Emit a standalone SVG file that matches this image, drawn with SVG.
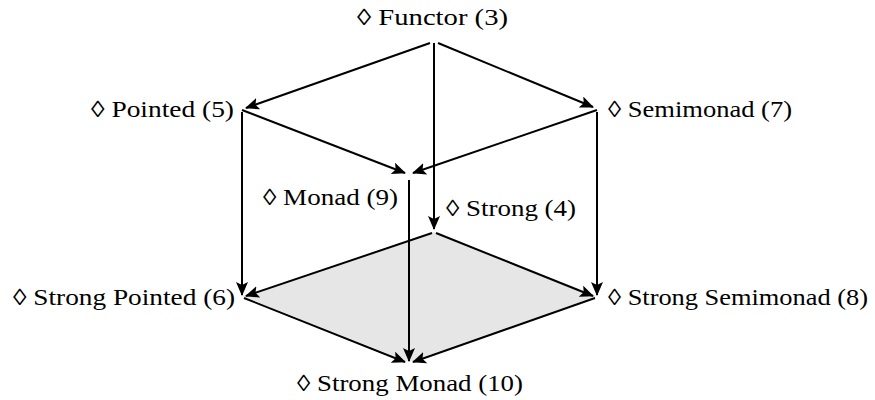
<svg xmlns="http://www.w3.org/2000/svg" width="875" height="400" viewBox="0 0 875 400">
<style>
text{font-family:"Liberation Serif","DejaVu Serif",serif;font-size:23px;fill:#000}
.e{stroke:#000;stroke-width:2;fill:none;marker-end:url(#ah)}
</style>
<defs>
<marker id="ah" markerUnits="userSpaceOnUse" markerWidth="14" markerHeight="12" refX="13" refY="6" orient="auto">
<path d="M0,0 L14,6 L0,12 L3,6 Z" fill="#000"/>
</marker>
</defs>
<polygon points="434,232 597,296 409,362 242,296" fill="#e6e6e6"/>
<g id="connectors">
<line class="e" x1="430" y1="43" x2="246" y2="108"/>
<line class="e" x1="438" y1="43" x2="593" y2="107"/>
<line class="e" x1="434" y1="43" x2="434" y2="229"/>
<line class="e" x1="242" y1="110" x2="405" y2="173"/>
<line class="e" x1="597" y1="110" x2="413" y2="173"/>
<line class="e" x1="242" y1="112" x2="242" y2="295"/>
<line class="e" x1="597" y1="112" x2="597" y2="295"/>
<line class="e" x1="409" y1="180" x2="409" y2="361"/>
<line class="e" x1="432" y1="233" x2="246" y2="296"/>
<line class="e" x1="436" y1="233" x2="593" y2="296"/>
<line class="e" x1="244" y1="298" x2="405" y2="362"/>
<line class="e" x1="595" y1="298" x2="413" y2="362"/>
</g>
<g id="functor"><text x="357" y="25" textLength="151" lengthAdjust="spacingAndGlyphs">◊ Functor (3)</text></g>
<g id="pointed"><text x="91" y="117" textLength="143" lengthAdjust="spacingAndGlyphs">◊ Pointed (5)</text></g>
<g id="semimonad"><text x="608" y="117" textLength="184" lengthAdjust="spacingAndGlyphs">◊ Semimonad (7)</text></g>
<g id="monad"><text x="263" y="205" textLength="135" lengthAdjust="spacingAndGlyphs">◊ Monad (9)</text></g>
<g id="strong"><text x="446" y="216" textLength="130" lengthAdjust="spacingAndGlyphs">◊ Strong (4)</text></g>
<g id="strongpointed"><text x="13" y="305" textLength="222" lengthAdjust="spacingAndGlyphs">◊ Strong Pointed (6)</text></g>
<g id="strongsemimonad"><text x="608" y="305" textLength="260" lengthAdjust="spacingAndGlyphs">◊ Strong Semimonad (8)</text></g>
<g id="strongmonad"><text x="297" y="391" textLength="226" lengthAdjust="spacingAndGlyphs">◊ Strong Monad (10)</text></g>
</svg>
